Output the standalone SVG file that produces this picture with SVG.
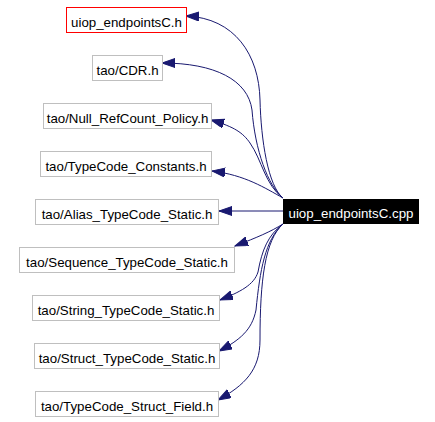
<svg xmlns="http://www.w3.org/2000/svg" width="435" height="422" viewBox="0 0 435 422">
<style>
.n rect{fill:#fff;stroke:#bfbfbf;stroke-width:1}
.n text{font-family:"Liberation Sans",Arial,sans-serif;font-size:13.3px;fill:#000;text-anchor:middle}
#n0 rect{stroke:#ff0000}
#main rect{fill:#000;stroke:#000}
#main text{fill:#fff}
.e path{fill:none;stroke:#191970;stroke-width:1;marker-end:url(#ah)}
</style>
<defs>
<marker id="ah" markerUnits="userSpaceOnUse" markerWidth="14" markerHeight="10" refX="13" refY="4.5" orient="auto">
<path d="M0,0 L13,4.5 L0,9 z" fill="#191970" stroke="#191970" stroke-width="1"/>
</marker>
</defs>
<rect width="435" height="422" fill="#fff"/>
<g id="edges" class="e">
<path d="M283,198 C268,186 261,140 260,100 C259,55 235,18 186,16"/>
<path d="M283,198 C268,186 255,150 252,110 C248,80 215,63 162,63"/>
<path d="M283,198 C265,185 262,160 250,143 C243,133 235,127 211,120"/>
<path d="M283,198 C265,188 245,175 212,171"/>
<path d="M283,211 L219,211"/>
<path d="M283,224 C270,232 258,237 235,246"/>
<path d="M283,224 C268,235 262,250 258,272 C254,285 240,292 220,300"/>
<path d="M283,224 C265,240 260,270 256,310 C252,330 240,340 219,351"/>
<path d="M283,224 C265,240 260,280 260,340 C260,370 245,385 218,400"/>
</g>
<g id="n0" class="n"><rect x="66.5" y="7.5" width="120" height="25"/><text x="126.5" y="27">uiop_endpointsC.h</text></g>
<g id="n1" class="n"><rect x="92.5" y="55.5" width="70" height="25"/><text x="127.5" y="75">tao/CDR.h</text></g>
<g id="n2" class="n"><rect x="43.5" y="103.5" width="168" height="25"/><text x="127.5" y="123">tao/Null_RefCount_Policy.h</text></g>
<g id="n3" class="n"><rect x="40.5" y="151.5" width="171" height="25"/><text x="126" y="171">tao/TypeCode_Constants.h</text></g>
<g id="n4" class="n"><rect x="35.5" y="199.5" width="183" height="25"/><text x="127" y="219">tao/Alias_TypeCode_Static.h</text></g>
<g id="n5" class="n"><rect x="19.5" y="247.5" width="215" height="25"/><text x="127" y="267">tao/Sequence_TypeCode_Static.h</text></g>
<g id="n6" class="n"><rect x="32.5" y="295.5" width="187" height="25"/><text x="126" y="315">tao/String_TypeCode_Static.h</text></g>
<g id="n7" class="n"><rect x="34.5" y="343.5" width="185" height="25"/><text x="127" y="363">tao/Struct_TypeCode_Static.h</text></g>
<g id="n8" class="n"><rect x="35.5" y="391.5" width="183" height="25"/><text x="127" y="411">tao/TypeCode_Struct_Field.h</text></g>
<g id="main" class="n"><rect x="283.5" y="199.5" width="135" height="24"/><text x="351" y="218">uiop_endpointsC.cpp</text></g>
</svg>
